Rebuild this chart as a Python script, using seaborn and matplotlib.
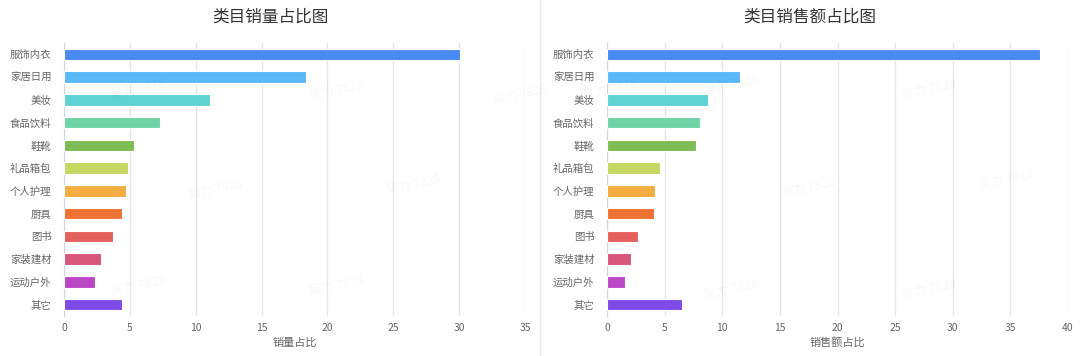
import pandas as pd
import matplotlib.pyplot as plt
import seaborn as sns

# ── DATA ───────────────────────────────────────────────
categories = ['服饰内衣', '家居日用', '美妆', '食品饮料', '鞋靴', '礼品箱包',
              '个人护理', '厨具', '图书', '家装建材', '运动户外', '其它']
volume_share = [30.1, 18.4, 11.1, 7.3, 5.35, 4.87, 4.74, 4.38, 3.75, 2.78, 2.38, 4.38]
sales_share = [37.6, 11.5, 8.8, 8.1, 7.7, 4.6, 4.2, 4.05, 2.72, 2.06, 1.53, 6.5]
colors = ['#4a8af4', '#5cb9f9', '#5fd3d3', '#6fd3a6', '#7dbd54', '#c5d661',
          '#f4ad42', '#ee7332', '#e5615d', '#d9567b', '#bc47c6', '#7f4ae6']

sns.set_style('white')
plt.rcParams['font.family'] = ['Noto Sans CJK SC', 'DejaVu Sans']

df = pd.DataFrame({'cat': categories, 'vol': volume_share, 'sales': sales_share})

fig = plt.figure(figsize=(10.8, 3.56), dpi=100)
ax1 = fig.add_axes([64 / 1080, 40 / 356, 461 / 1080, 273 / 356])
ax2 = fig.add_axes([607 / 1080, 40 / 356, 461 / 1080, 273 / 356])

panels = [
    (ax1, 'vol', '类目销量占比图', '销量占比', 35, 270),
    (ax2, 'sales', '类目销售额占比图', '销售额占比', 40, 810),
]

for ax, col, title, xlabel, xmax, title_x in panels:
    sns.barplot(data=df, x=col, y='cat', hue='cat', palette=colors, legend=False,
                orient='h', width=0.5, edgecolor='#ffffff', linewidth=0.8,
                saturation=1, ax=ax, zorder=3)
    ax.set_xlim(0, xmax)
    ax.set_ylim(11.5, -0.5)
    ax.set_xticks(range(0, xmax + 1, 5))
    ax.grid(axis='x', color='#e6e6e6', linewidth=1, zorder=0)
    for s in ['top', 'right', 'bottom']:
        ax.spines[s].set_visible(False)
    ax.spines['left'].set_color('#ccd6eb')
    ax.tick_params(axis='both', length=0, labelsize=7.5, labelcolor='#666666')
    ax.tick_params(axis='y', pad=9)
    ax.tick_params(axis='x', pad=5)
    ax.set_ylabel('')
    ax.set_xlabel(xlabel, fontsize=8, color='#666666', labelpad=3)
    fig.text(title_x / 1080, 1 - 17 / 356, title, ha='center', va='center',
             fontsize=12, color='#333333')

# divider between the two panels
fig.add_artist(plt.Line2D([540 / 1080, 540 / 1080], [0, 1], color='#e8e8e8', linewidth=1))

# faint watermark
for wx, wy in [(138, 90), (336, 91), (520, 95), (215, 190), (413, 185),
               (138, 286), (336, 286), (731, 85), (929, 90), (808, 188),
               (1006, 180), (731, 290), (929, 290), (610, 90)]:
    fig.text(wx / 1080, 1 - wy / 356, '吴力 7828', ha='center', va='center',
             fontsize=9, color='#000000', alpha=0.035, rotation=12)

plt.savefig('out.png', dpi=100)
